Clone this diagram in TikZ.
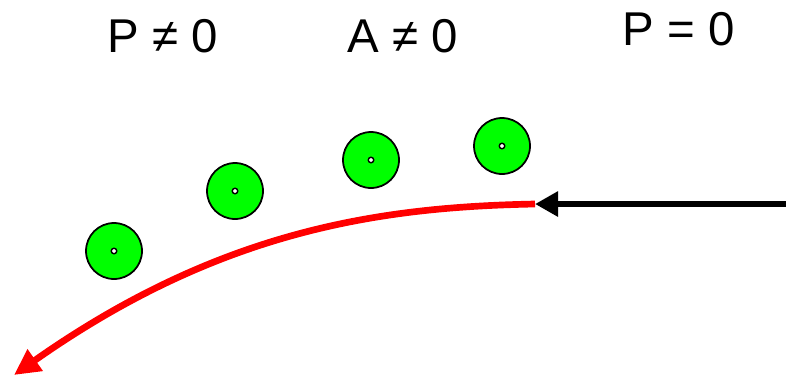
\documentclass[tikz,border=0pt]{standalone}
\usepackage{fontspec}
\setmainfont{Liberation Sans}
\usetikzlibrary{arrows.meta}

\tikzset{
  ball/.style={circle, draw, line width=1pt, fill=green, minimum width=1.12cm, minimum height=1.08cm, inner sep=0pt},
  hole/.style={circle, draw, line width=0.8pt, fill=white, minimum size=0.11cm, inner sep=0pt},
  label/.style={font=\fontsize{27}{32}\selectfont}
}

\begin{document}
\begin{tikzpicture}[x=0.02cm, y=-0.02cm]
\useasboundingbox (0,0) rectangle (786,379);

\node[label] (pne) at (163,36) {P ≠ 0};
\node[label] (ane) at (403,36) {A ≠ 0};
\node[label] (peq) at (679,29) {P = 0};

\node[ball] (b1) at (114,251) {};
\node[ball] (b2) at (235,191) {};
\node[ball] (b3) at (371,160) {};
\node[ball] (b4) at (502,146) {};
\foreach \b in {b1,b2,b3,b4}
  \node[hole] at (\b) {};

\coordinate (entry) at (786,204);
\coordinate (bend) at (535,204);
\coordinate (exit) at (14,375);

\draw[line width=3.8pt, -{Triangle[length=0.46cm, width=0.48cm]}] (entry) -- (bend);
\draw[red, line width=3.8pt, -{Triangle[length=0.52cm, width=0.5cm]}]
  (bend) .. controls (380,207) and (220,230) .. (exit);
\end{tikzpicture}
\end{document}
